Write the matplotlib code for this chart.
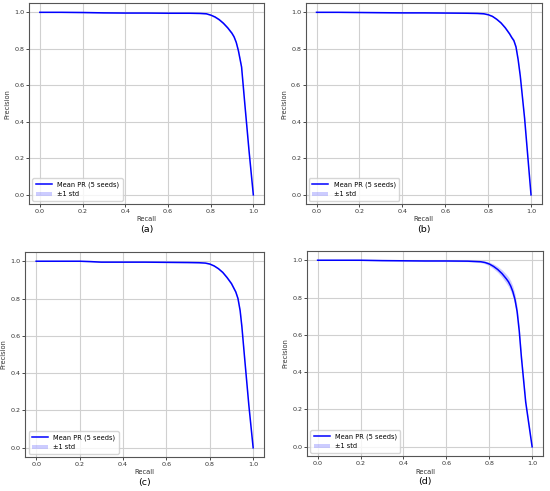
import matplotlib
matplotlib.use("Agg")
from matplotlib import pyplot as plt
import numpy as np

# values
recall_a = [0.0, 0.1, 0.2, 0.3, 0.4, 0.5, 0.6, 0.7, 0.75, 0.78, 0.8, 0.82, 0.84, 0.86,
            0.88, 0.9, 0.91, 0.92, 0.93, 0.94, 0.945, 0.96, 0.98, 1.0]
prec_a = [1.0, 1.0, 0.999, 0.997, 0.996, 0.996, 0.995, 0.995, 0.994, 0.992, 0.985, 0.975,
          0.96, 0.94, 0.915, 0.885, 0.865, 0.835, 0.79, 0.73, 0.70, 0.50, 0.24, 0.0]
std_a = [0.0, 0.001, 0.002, 0.002, 0.002, 0.002, 0.002, 0.002, 0.002, 0.003, 0.004, 0.005,
         0.006, 0.007, 0.007, 0.008, 0.008, 0.008, 0.008, 0.008, 0.008, 0.006, 0.004, 0.0]

recall_b = [0.0, 0.1, 0.2, 0.3, 0.4, 0.5, 0.6, 0.7, 0.75, 0.78, 0.8, 0.82, 0.84, 0.86,
            0.88, 0.9, 0.91, 0.92, 0.93, 0.94, 0.95, 0.97, 0.99, 1.0]
prec_b = [1.0, 1.0, 0.999, 0.998, 0.997, 0.997, 0.996, 0.995, 0.994, 0.992, 0.987, 0.978,
          0.962, 0.942, 0.915, 0.882, 0.862, 0.845, 0.81, 0.74, 0.65, 0.42, 0.14, 0.0]
std_b = [0.0, 0.001, 0.001, 0.002, 0.002, 0.002, 0.002, 0.002, 0.002, 0.003, 0.003, 0.004,
         0.005, 0.006, 0.007, 0.008, 0.009, 0.01, 0.009, 0.008, 0.007, 0.005, 0.003, 0.0]

recall_c = [0.0, 0.1, 0.2, 0.25, 0.3, 0.4, 0.5, 0.6, 0.7, 0.75, 0.78, 0.8, 0.82, 0.84,
            0.86, 0.88, 0.9, 0.92, 0.93, 0.94, 0.948, 0.96, 0.98, 1.0]
prec_c = [1.0, 1.0, 1.0, 0.998, 0.995, 0.995, 0.995, 0.994, 0.993, 0.992, 0.99, 0.985,
          0.975, 0.96, 0.94, 0.912, 0.88, 0.835, 0.80, 0.735, 0.65, 0.49, 0.23, 0.0]
std_c = [0.0, 0.001, 0.001, 0.002, 0.002, 0.002, 0.002, 0.002, 0.002, 0.002, 0.003, 0.003,
         0.004, 0.005, 0.006, 0.007, 0.008, 0.008, 0.008, 0.008, 0.007, 0.006, 0.004, 0.0]

recall_d = [0.0, 0.1, 0.2, 0.3, 0.4, 0.5, 0.6, 0.7, 0.76, 0.78, 0.8, 0.82, 0.84, 0.86,
            0.88, 0.89, 0.9, 0.91, 0.92, 0.93, 0.94, 0.95, 0.97, 0.99, 1.0]
prec_d = [1.0, 1.0, 1.0, 0.998, 0.997, 0.996, 0.996, 0.995, 0.992, 0.988, 0.98, 0.967,
          0.95, 0.928, 0.9, 0.884, 0.862, 0.832, 0.79, 0.725, 0.62, 0.48, 0.24, 0.08, 0.0]
std_d = [0.0, 0.001, 0.002, 0.002, 0.002, 0.003, 0.003, 0.003, 0.005, 0.007, 0.01, 0.013,
         0.016, 0.02, 0.024, 0.026, 0.028, 0.03, 0.03, 0.028, 0.024, 0.018, 0.01, 0.005, 0.0]

panels = [
    ("(a)", recall_a, prec_a, std_a, [0.053, 0.5845, 0.427, 0.409]),
    ("(b)", recall_b, prec_b, std_b, [0.556, 0.5845, 0.429, 0.409]),
    ("(c)", recall_c, prec_c, std_c, [0.046, 0.069, 0.434, 0.418]),
    ("(d)", recall_d, prec_d, std_d, [0.558, 0.071, 0.429, 0.418]),
]
ticks = [0.0, 0.2, 0.4, 0.6, 0.8, 1.0]

fig = plt.figure(figsize=(5.5, 4.91), dpi=100)

for name, rec, prec, std, pos in panels:
    ax = fig.add_axes(pos)
    rec = np.array(rec)
    prec = np.array(prec)
    std = np.array(std)
    ax.plot(rec, prec, color="blue", lw=1.1, label="Mean PR (5 seeds)")
    ax.fill_between(rec, prec - std, np.minimum(prec + std, 1.0), color="blue",
                    alpha=0.2, lw=0, label="±1 std")
    ax.set_xticks(ticks)
    ax.set_yticks(ticks)
    ax.set_xlim(-0.05, 1.05)
    ax.set_ylim(-0.05, 1.05)
    ax.grid(True, color="#d0d0d0", lw=0.8)
    ax.tick_params(labelsize=4.6, length=2, width=0.5, pad=1.3, labelcolor="#333333")
    ax.set_xlabel("Recall", fontsize=4.8, labelpad=2, color="#333333")
    ax.set_ylabel("Precision", fontsize=4.8, labelpad=3, color="#333333")
    for sp in ax.spines.values():
        sp.set_color("#555555")
        sp.set_linewidth(0.8)
    ax.legend(loc="lower left", fontsize=4.8, handlelength=2.4, borderpad=0.5,
              labelspacing=0.5, framealpha=0.8)
    b = ax.get_position()
    fig.text(b.x0 + b.width / 2, b.y0 - 0.052, name, ha="center", va="center",
             fontsize=6.8)

fig.savefig("out.png", dpi=100)
